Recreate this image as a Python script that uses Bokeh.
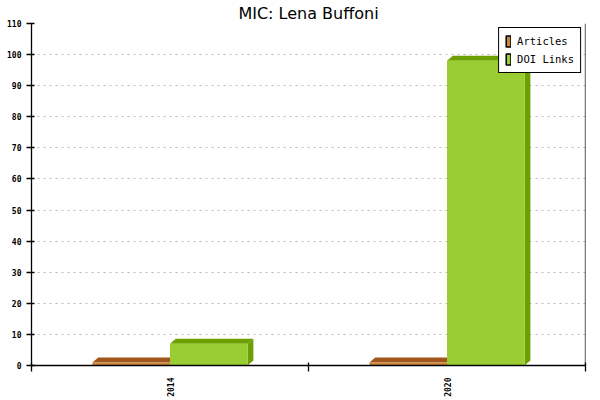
import numpy as np
from bokeh.plotting import figure
from bokeh.models import Range1d, FixedTicker, Span, Legend, LegendItem
from bokeh.embed import file_html
from bokeh.resources import INLINE

# ---- data ----
years = ["2014", "2020"]
articles = [1, 1]
doi_links = [7, 98]
series_names = ["Articles", "DOI Links"]
y_ticks = list(range(0, 111, 10))

# ---- style ----
front_colors = ["#CD853F", "#9ACD32"]
shade_colors = ["#A0561A", "#6BA000"]
bar_w = 0.28      # in category units
depth_x = 0.021   # 3D depth, category units
depth_y = 1.6     # 3D depth, value units

p = figure(width=600, height=400, output_backend="svg", toolbar_location=None,
           x_range=Range1d(0, len(years)), y_range=Range1d(0, 110),
           min_border_left=31, min_border_right=15, min_border_top=0, min_border_bottom=35)

p.title.text = "MIC: Lena Buffoni"
p.title.align = "center"
p.title.text_font = "DejaVu Sans"
p.title.text_font_size = "16px"
p.title.text_font_style = "normal"
p.title.text_color = "black"
p.title.standoff = 2
p.outline_line_color = None

series = [articles, doi_links]
for s, vals in enumerate(series):
    lefts, rights, tops = [], [], []
    top_xs, top_ys, side_xs, side_ys = [], [], [], []
    for i, v in enumerate(vals):
        c = i + 0.5
        x0 = c - bar_w + s * bar_w
        x1 = x0 + bar_w
        lefts.append(x0); rights.append(x1); tops.append(v)
        top_xs.append([x0, x0 + depth_x, x1 + depth_x, x1])
        top_ys.append([v, v + depth_y, v + depth_y, v])
        side_xs.append([x1, x1 + depth_x, x1 + depth_x, x1])
        side_ys.append([0, depth_y, v + depth_y, v])
    p.patches(xs=top_xs + side_xs, ys=top_ys + side_ys,
              fill_color=shade_colors[s], line_color=None)
    p.quad(left=lefts, right=rights, bottom=[0] * len(vals), top=tops,
           fill_color=front_colors[s], line_color=None)

# axes
tick_font = "DejaVu Sans Mono"
p.yaxis.ticker = FixedTicker(ticks=y_ticks)
p.yaxis.major_tick_out = 5
p.yaxis.major_tick_in = 3
p.yaxis.minor_tick_out = 0
p.yaxis.minor_tick_in = 0
p.yaxis.major_label_text_font = tick_font
p.yaxis.major_label_text_font_size = "8px"
p.yaxis.major_label_text_font_style = "bold"
p.yaxis.major_label_text_color = "black"
p.yaxis.major_label_standoff = 5
p.yaxis.axis_line_color = "black"
p.yaxis.axis_line_width = 1.3
p.yaxis.major_tick_line_width = 1.3

centers = [i + 0.5 for i in range(len(years))]
bounds = list(range(len(years) + 1))
p.xaxis.ticker = FixedTicker(ticks=centers, minor_ticks=bounds)
p.xaxis.major_label_overrides = {c: y for c, y in zip(centers, years)}
p.xaxis.major_tick_in = 0
p.xaxis.major_tick_out = 0
p.xaxis.minor_tick_in = 3
p.xaxis.minor_tick_out = 6
p.xaxis.minor_tick_line_color = "black"
p.xaxis.minor_tick_line_width = 1.3
p.xaxis.axis_line_width = 1.3
p.xaxis.major_label_orientation = np.pi / 2
p.xaxis.major_label_text_font = tick_font
p.xaxis.major_label_text_font_size = "8px"
p.xaxis.major_label_text_font_style = "bold"
p.xaxis.major_label_text_color = "black"
p.xaxis.major_label_standoff = 6

p.xgrid.visible = False
p.ygrid.ticker = FixedTicker(ticks=y_ticks)
p.ygrid.grid_line_color = "#bbbbbb"
p.ygrid.grid_line_dash = "2 4"

p.add_layout(Span(location=len(years), dimension="height", line_color="black", line_width=1.3))

# legend proxies (zero-size, hidden in the axis corner)
items = []
for s, name in enumerate(series_names):
    r = p.quad(left=[bounds[0]], right=[bounds[0]], top=[0], bottom=[0],
               fill_color=front_colors[s], line_color="black", line_width=1.5)
    items.append(LegendItem(label=name, renderers=[r]))
legend = Legend(items=items, location="top_right", border_line_color="black",
                border_line_width=1.5, border_line_alpha=1,
                label_text_font=tick_font, label_text_font_size="10.5px",
                label_text_color="black",
                glyph_width=6, glyph_height=14, spacing=4, padding=6, margin=4,
                label_standoff=6, label_height=14, background_fill_alpha=1)
p.add_layout(legend)

open("out.html", "w").write(file_html(p, INLINE))
